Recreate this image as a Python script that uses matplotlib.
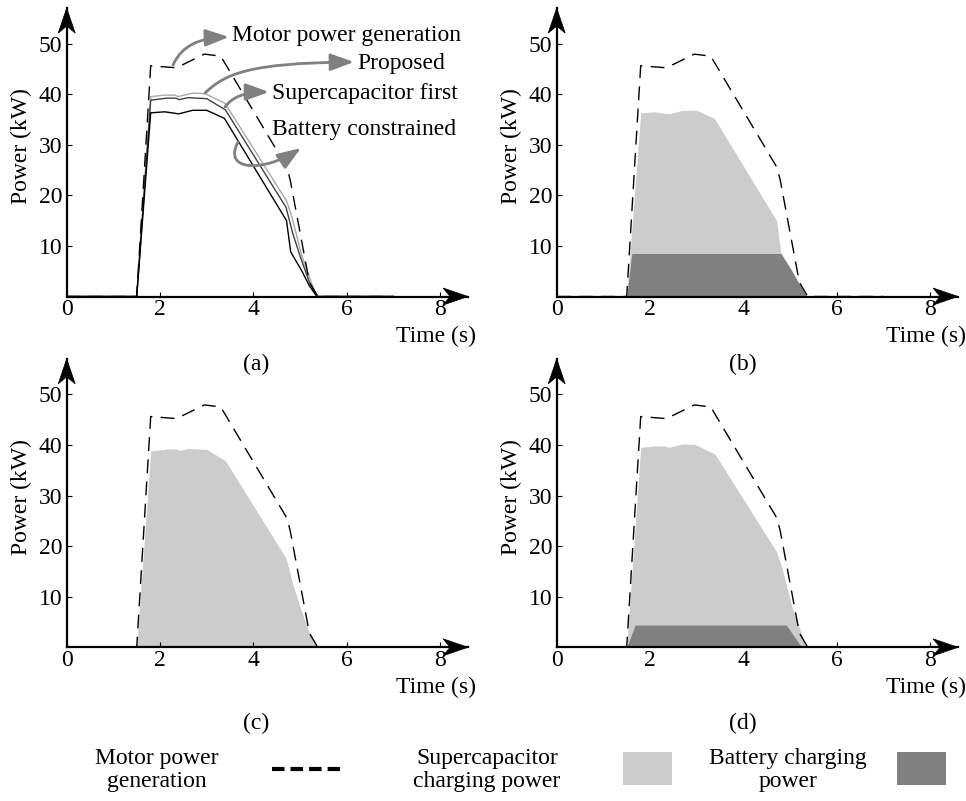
import matplotlib
matplotlib.use('Agg')
import matplotlib.pyplot as plt
from matplotlib.patches import Polygon, FancyArrowPatch, Rectangle
from matplotlib.path import Path
from matplotlib.lines import Line2D

plt.rcParams['font.family'] = ['Liberation Serif', 'DejaVu Serif']

# ---------------- data ----------------
x_ticks = [0, 2, 4, 6, 8]
y_ticks = [10, 20, 30, 40, 50]

# motor power generation (dashed)
t_motor = [0, 1.5, 1.8, 2.35, 2.95, 3.3, 4.72, 4.79, 5.2, 5.38, 7.0]
motor = [0, 0, 45.6, 45.2, 47.9, 47.5, 25.5, 23.0, 2.8, 0, 0]

# (b) battery constrained : supercapacitor charging power (upper edge)
t_b = [0, 1.5, 1.8, 2.1, 2.4, 2.7, 3.0, 3.38, 4.71, 4.8, 5.03, 5.2, 5.36, 7.0]
sc_b = [0, 0, 36.3, 36.5, 36.1, 36.8, 36.8, 35.2, 15.0, 8.8, 5.2, 2.1, 0, 0]
# (b) battery charging power
t_bat_b = [1.5, 1.61, 4.8, 5.03, 5.21, 5.36]
bat_b = [0, 8.5, 8.5, 5.2, 2.3, 0]

# (c) supercapacitor first
t_c = [0, 1.5, 1.8, 2.15, 2.34, 2.41, 2.6, 3.0, 3.4, 4.7, 4.84, 5.0, 5.2, 5.38, 7.0]
sc_c = [0, 0, 38.8, 39.2, 39.2, 38.9, 39.3, 39.1, 36.9, 17.6, 12.6, 8.0, 2.8, 0, 0]

# (d) proposed
t_d = [0, 1.5, 1.8, 2.1, 2.32, 2.39, 2.7, 2.96, 3.39, 4.71, 4.82, 5.04, 5.25, 5.36, 7.0]
sc_d = [0, 0, 39.5, 39.8, 39.8, 39.5, 40.2, 40.1, 38.2, 18.9, 15.9, 8.0, 2.5, 0, 0]
t_bat_d = [1.5, 1.68, 4.92, 5.25]
bat_d = [0, 4.4, 4.4, 0]

labels_a = ["Motor power generation", "Proposed", "Supercapacitor first", "Battery constrained"]
legend_labels = ["Motor power\ngeneration", "Supercapacitor\ncharging power", "Battery charging\npower"]
panel_tags = ["(a)", "(b)", "(c)", "(d)"]

C_SC = '#cccccc'
C_BAT = '#808080'
C_ARROW = '#808080'
FS = 17

# ---------------- layout ----------------
W, H = 966, 801
fig = plt.figure(figsize=(W / 100, H / 100), dpi=100)

PX_X = 46.67   # pixels per second
PX_Y = 5.06    # pixels per kW
XMAX, YMAX = 8.6, 57.0


def F(x, y):
    return (x / W, 1 - y / H)


def arrow_head(tip, direction):
    tx, ty = tip
    L, hw, notch = 25, 8.5, 7
    if direction == 'right':
        pts = [(tx, ty), (tx - L, ty - hw), (tx - L + notch, ty), (tx - L, ty + hw)]
    else:
        pts = [(tx, ty), (tx - hw, ty + L), (tx, ty + L - notch), (tx + hw, ty + L)]
    fig.patches.append(Polygon([F(*p) for p in pts], closed=True, transform=fig.transFigure,
                               facecolor='black', edgecolor='black', lw=0.5, zorder=10))


def make_ax(ox, oy):
    x0, y0 = F(ox, oy)
    w = XMAX * PX_X / W
    h = YMAX * PX_Y / H
    ax = fig.add_axes([x0, y0, w, h])
    ax.set_xlim(0, XMAX)
    ax.set_ylim(0, YMAX)
    for s in ['top', 'right']:
        ax.spines[s].set_visible(False)
    for s in ['left', 'bottom']:
        ax.spines[s].set_linewidth(1.6)
        ax.spines[s].set_zorder(5)
    ax.set_xticks(x_ticks)
    ax.set_yticks(y_ticks)
    ax.tick_params(direction='in', length=3.5, width=0.8, labelsize=FS, pad=3)
    ax.tick_params(axis='x', pad=2)
    ax.patch.set_alpha(0)
    arrow_head((ox + XMAX * PX_X, oy), 'right')
    arrow_head((ox, oy - YMAX * PX_Y), 'up')
    fig.text(*F(ox - 45, oy - 150), "Power (kW)", rotation=90, ha='center', va='center', fontsize=FS)
    fig.text(*F(ox + 369, oy + 40), "Time (s)", ha='center', va='center', fontsize=FS)
    return ax


panels = {'a': (66.7, 296.5), 'b': (556.7, 296.5), 'c': (66.7, 647.3), 'd': (556.7, 647.3)}
axes = {k: make_ax(*v) for k, v in panels.items()}


def motor_line(ax):
    ax.plot(t_motor, motor, color='black', lw=1.0, dashes=(10, 6), zorder=4)


# (a) lines
ax = axes['a']
motor_line(ax)
ax.plot(t_d, sc_d, color='#a8a8a8', lw=1.0, zorder=3)
ax.plot(t_c, sc_c, color='#404040', lw=1.0, zorder=3)
ax.plot(t_b, sc_b, color='black', lw=1.0, zorder=3)

# (b)
ax = axes['b']
ax.fill_between(t_b, 0, sc_b, color=C_SC, lw=0, zorder=1)
ax.fill_between(t_bat_b, 0, bat_b, color=C_BAT, lw=0, zorder=2)
motor_line(ax)

# (c)
ax = axes['c']
ax.fill_between(t_c, 0, sc_c, color=C_SC, lw=0, zorder=1)
motor_line(ax)

# (d)
ax = axes['d']
ax.fill_between(t_d, 0, sc_d, color=C_SC, lw=0, zorder=1)
ax.fill_between(t_bat_d, 0, bat_d, color=C_BAT, lw=0, zorder=2)
motor_line(ax)

# panel tags
tag_pos = [(256, 364), (743, 364), (256, 723), (743, 723)]
for tag, (x, y) in zip(panel_tags, tag_pos):
    fig.text(*F(x, y), tag, ha='center', va='center', fontsize=FS)

# annotations in (a)
text_pos = [(232, 35), (357, 63), (272, 93), (272, 129)]
for lab, (x, y) in zip(labels_a, text_pos):
    fig.text(*F(x, y), lab, ha='left', va='center', fontsize=FS)

curves = [
    [(173, 65), (182, 45), (200, 38), (229, 37)],
    [(205, 93), (225, 74), (248, 63), (354, 62)],
    [(225, 107), (232, 97), (245, 92), (269, 92)],
    [(238, 142), (222, 172), (265, 172), (301, 148)],
]
for pts in curves:
    path = Path([F(*p) for p in pts], [Path.MOVETO, Path.CURVE4, Path.CURVE4, Path.CURVE4])
    fa = FancyArrowPatch(path=path, arrowstyle='-|>,head_length=1.1,head_width=0.4',
                         mutation_scale=13, color=C_ARROW, lw=2.0,
                         transform=fig.transFigure, zorder=6)
    fig.patches.append(fa)

# legend
fig.text(*F(157, 770), legend_labels[0], ha='center', va='center', fontsize=FS, linespacing=1.15)
fig.lines.append(Line2D([272 / W, 340 / W], [1 - 769 / H] * 2, transform=fig.transFigure,
                        color='black', lw=3, dashes=(3, 1.45)))
fig.text(*F(487, 770), legend_labels[1], ha='center', va='center', fontsize=FS, linespacing=1.15)
fig.patches.append(Rectangle(F(623, 785), 49 / W, 33 / H, transform=fig.transFigure,
                             facecolor=C_SC, edgecolor='none'))
fig.text(*F(788, 770), legend_labels[2], ha='center', va='center', fontsize=FS, linespacing=1.15)
fig.patches.append(Rectangle(F(897, 785), 49 / W, 33 / H, transform=fig.transFigure,
                             facecolor=C_BAT, edgecolor='none'))

fig.savefig('out.png', dpi=100)
